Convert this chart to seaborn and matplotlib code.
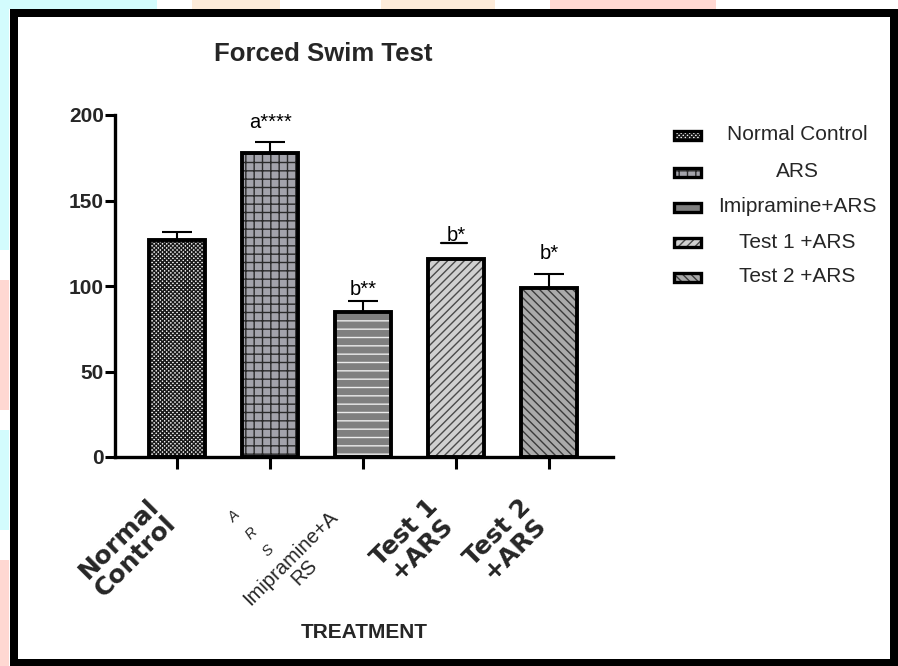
import numpy as np
import pandas as pd
import matplotlib
matplotlib.use("Agg")
import matplotlib.pyplot as plt
import seaborn as sns
from matplotlib.patches import Rectangle
from matplotlib.lines import Line2D
from matplotlib.transforms import ScaledTranslation, IdentityTransform

# ---------------- data ----------------
groups = ["Normal Control", "ARS", "Imipramine+ARS", "Test 1 +ARS", "Test 2 +ARS"]
tick_labels = ["Normal\nControl", "A\nR\nS", "Imipramine+A\nRS", "Test 1\n+ARS", "Test 2\n+ARS"]
means = [127, 178, 85, 116, 99]
sem = [4.5, 6, 6, 0, 8]
sig_labels = ["", "a****", "b**", "b*", "b*"]
sig_y = [None, 192.5, 94.5, 126.5, 115.5]
y_ticks = [0, 50, 100, 150, 200]

# ---------------- styles ----------------
face_colors = ["#f4f4f4", "#a3a3ab", "#7f7f7f", "#d0d0d0", "#aaaaaa"]
hatches = ["xxxxxxxx", "++", "--", "////", "\\\\\\\\"]
hatch_colors = ["#1a1a1a", "#2a2a2a", "#ececec", "#4a4a4a", "#3a3a3a"]

W, H = 898, 666
sns.set_theme(style="white")
plt.rcParams["font.family"] = ["Liberation Sans", "DejaVu Sans"]
plt.rcParams["hatch.linewidth"] = 1.0

fig = plt.figure(figsize=(W / 100, H / 100), dpi=100)
fig.patch.set_facecolor("white")
ax = fig.add_axes([115 / W, (H - 457) / H, (613 - 115) / W, (457 - 115) / H])
ax.set_facecolor("none")

df = pd.DataFrame({"group": groups, "value": means})
sns.barplot(data=df, x="group", y="value", order=groups, hue="group",
            hue_order=groups, palette=dict(zip(groups, face_colors)),
            legend=False, width=0.6, errorbar=None, linewidth=0, ax=ax)

bars = sorted(ax.patches, key=lambda p: p.get_x())
centers = []
for p, fc, h, hc in zip(bars, face_colors, hatches, hatch_colors):
    p.set_facecolor(fc)
    p.set_hatch(h)
    p.set_edgecolor(hc)
    p.set_linewidth(0)
    ax.add_patch(Rectangle(p.get_xy(), p.get_width(), p.get_height(), fill=False,
                           ec="black", lw=2.8, zorder=p.get_zorder() + 0.5,
                           clip_on=False))
    centers.append(p.get_x() + p.get_width() / 2)

ax.errorbar(centers, means, yerr=[np.zeros(len(sem)), sem], fmt="none",
            ecolor="black", elinewidth=1.5, capsize=11, capthick=1.5, zorder=1)

# significance labels
sig_texts = []
for cx, lab, yy in zip(centers, sig_labels, sig_y):
    if lab:
        t = ax.text(cx, yy, lab, ha="center", va="baseline", fontsize=14.5,
                    color="black")
        sig_texts.append(t)
    else:
        sig_texts.append(None)

# axes styling
ax.set_xlim(-0.67, 4.69)
ax.set_ylim(0, 200)
ax.set_yticks(y_ticks)
ax.set_yticklabels([str(v) for v in y_ticks], fontsize=15, fontweight="bold")
for s in ["top", "right"]:
    ax.spines[s].set_visible(False)
for s in ["left", "bottom"]:
    ax.spines[s].set_linewidth(2.4)
    ax.spines[s].set_color("black")
ax.spines["left"].set_bounds(0, 200)
ax.tick_params(axis="y", length=7, width=2.2, pad=1.0, color="black", left=True)
ax.tick_params(axis="x", length=8.6, width=2.2, pad=40, color="black", bottom=True)

ax.set_xticks(range(len(groups)))
ax.set_xticklabels(tick_labels, rotation=45, ha="right", va="baseline",
                   rotation_mode="anchor", multialignment="center")
lbls = ax.get_xticklabels()
for i, t in enumerate(lbls):
    if i in (0, 3, 4):
        t.set_fontfamily("DejaVu Sans")
        t.set_fontweight("bold")
        t.set_fontsize(18)
        t.set_linespacing(1.0)
    elif i == 1:
        t.set_fontsize(10.5)
        t.set_linespacing(1.9)
        t.set_fontstyle("italic")
        t.set_transform(t.get_transform() + ScaledTranslation(-0.02, -0.18, fig.dpi_scale_trans))
    elif i == 2:
        t.set_fontsize(14.5)
        t.set_linespacing(1.0)
        t.set_transform(t.get_transform() + ScaledTranslation(-0.11, -0.07, fig.dpi_scale_trans))

ax.set_xlabel("TREATMENT", fontsize=15, fontweight="bold", labelpad=0)
ax.xaxis.set_label_coords(0.5, -0.485)
ax.set_ylabel("")

# title
fig.text(323 / W, 1 - 61 / H, "Forced Swim Test", ha="center", va="baseline",
         fontsize=18.5, fontweight="bold")

# manual legend (centered labels, as in the reference)
ident = IdentityTransform()
row_y = [135, 172, 207, 242, 277]
for yy, name, fc, h, hc in zip(row_y, groups, face_colors, hatches, hatch_colors):
    fig.add_artist(Rectangle((674, H - yy - 4.5), 27, 9, facecolor=fc, hatch=h,
                             edgecolor=hc, lw=0, transform=ident))
    fig.add_artist(Rectangle((674, H - yy - 4.5), 27, 9, fill=False,
                             edgecolor="black", lw=2.4, transform=ident))
    fig.text(797 / W, 1 - yy / H, name, ha="center", va="center", fontsize=15)

# faint page decorations outside the frame
deco = [((0, 0), 157, 9, "#d3fcfd"), ((192, 0), 88, 9, "#fdebd9"),
        ((381, 0), 114, 9, "#fdebd9"), ((550, 0), 166, 9, "#ffd8d2"),
        ((0, 0), 9, 250, "#d3fcfd"), ((0, 280), 9, 130, "#ffd8d2"),
        ((0, 430), 9, 100, "#d3fcfd"), ((0, 560), 9, 106, "#ffd8d2")]
for (x0, y0), w, hh, c in deco:
    fig.add_artist(Rectangle((x0, H - y0 - hh), w, hh, facecolor=c, lw=0,
                             transform=ident, zorder=-5))

# thick black frame
fig.add_artist(Rectangle((13.5, H - 663), 894 - 13.5, 663 - 13, fill=False,
                         edgecolor="black", lw=8 * 0.72, transform=ident))

# underline under the Test 1 label
fig.canvas.draw()
t1 = sig_texts[3]
bb = t1.get_window_extent()
fig.add_artist(Line2D([bb.x0 - 5, bb.x1 + 1], [bb.y0 + 1.5, bb.y0 + 1.5],
                      color="black", lw=1.6, transform=ident))

fig.savefig("out.png", dpi=100)
